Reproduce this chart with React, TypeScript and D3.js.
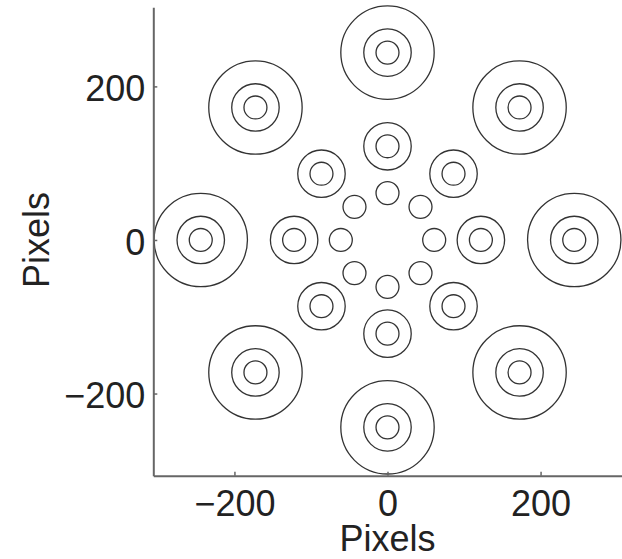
import React, { useRef, useEffect } from "react";
import * as d3 from "d3";

// eccentricity of each ring of stimuli (pixels)
const ringEccentricity = [61, 122, 244];
// radii of the concentric circles drawn at each ring
const ringCircleRadii = [[15], [15, 31], [15, 31, 61]];
// polar angles of the stimulus positions (degrees)
const polarAngles = [0, 45, 90, 135, 180, 225, 270, 315];
const xTicks = [-200, 0, 200];
const yTicks = [-200, 0, 200];

const App = () => {
    const svgRef = useRef<SVGSVGElement>(null);

    useEffect(() => {
        const width = 622;
        const height = 559;
        const font = "'Liberation Sans', Arial, Helvetica, sans-serif";

        const svg = d3.select(svgRef.current).attr("width", width).attr("height", height);
        svg.selectAll("*").remove();

        const x = d3.scaleLinear().domain([-306, 306]).range([153.3, 621.7]);
        const y = d3.scaleLinear().domain([-307, 303]).range([475.7, 7.3]);
        const k = (x(1) - x(0)); // px per unit

        // circles
        const circles: { cx: number; cy: number; r: number }[] = [];
        ringEccentricity.forEach((ecc, i) => {
            polarAngles.forEach((a) => {
                const rad = (a * Math.PI) / 180;
                ringCircleRadii[i].forEach((r) => {
                    circles.push({ cx: ecc * Math.cos(rad), cy: ecc * Math.sin(rad), r });
                });
            });
        });

        svg
            .append("g")
            .selectAll("circle")
            .data(circles)
            .enter()
            .append("circle")
            .attr("cx", (d) => x(d.cx))
            .attr("cy", (d) => y(d.cy))
            .attr("r", (d) => d.r * k)
            .attr("fill", "none")
            .attr("stroke", "#333")
            .attr("stroke-width", 1.3);

        const xAxis = d3.axisBottom(x).tickValues(xTicks).tickSizeInner(-4).tickSizeOuter(0).tickPadding(15);
        const yAxis = d3.axisLeft(y).tickValues(yTicks).tickSizeInner(-4).tickSizeOuter(0).tickPadding(8);

        const gx = svg.append("g").attr("transform", `translate(0, ${y(-307)})`).call(xAxis);
        const gy = svg.append("g").attr("transform", `translate(${x(-306)}, 0)`).call(yAxis);

        [gx, gy].forEach((g) => {
            g.select(".domain").attr("stroke", "#666").attr("stroke-width", 2);
            g.selectAll(".tick line").attr("stroke", "#666").attr("stroke-width", 1.5);
            g.selectAll("text")
                .attr("fill", "#222")
                .style("font-size", "36px")
                .style("font-family", font);
        });
        gy.selectAll("text").attr("dy", "0.4em");

        // axis labels
        svg
            .append("text")
            .attr("x", x(0))
            .attr("y", 551)
            .attr("text-anchor", "middle")
            .attr("fill", "#222")
            .style("font-size", "36px")
            .style("font-family", font)
            .text("Pixels");

        svg
            .append("text")
            .attr("transform", `translate(49, ${y(0)}) rotate(-90)`)
            .attr("text-anchor", "middle")
            .attr("fill", "#222")
            .style("font-size", "36px")
            .style("font-family", font)
            .text("Pixels");
    }, []);

    return (
        <div>
            <svg ref={svgRef} style={{ position: "absolute", left: 0, top: 0, display: "block", background: "#fff" }}></svg>
        </div>
    );
};

export default App;
